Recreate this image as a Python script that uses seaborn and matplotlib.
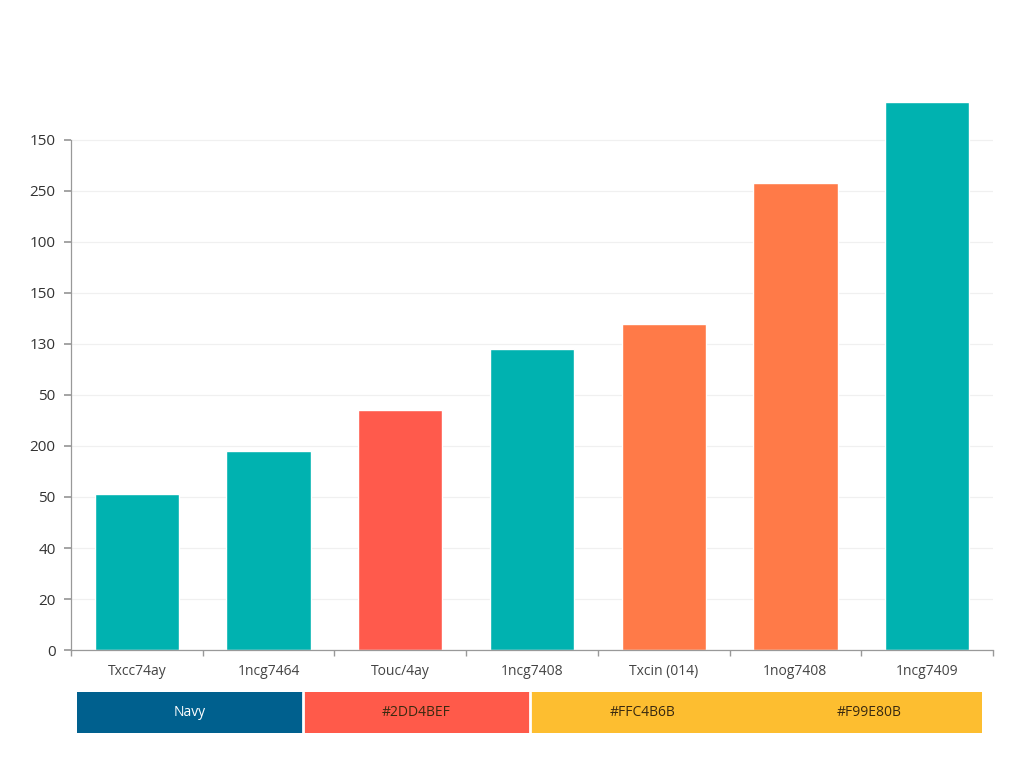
import numpy as np
import pandas as pd
import matplotlib
matplotlib.use("Agg")
import matplotlib.pyplot as plt
from matplotlib.colors import ListedColormap
import seaborn as sns

# bar data
categories = ["Txcc74ay", "1ncg7464", "Touc/4ay", "1ncg7408", "Txcin (014)", "1nog7408", "1ncg7409"]
values = [61, 78, 94, 118, 128, 183, 215]
bar_colors = ["#00B2B0", "#00B2B0", "#FF5A4C", "#00B2B0", "#FF7A48", "#FF7A48", "#00B2B0"]

# y axis labels as printed on the chart (bottom to top)
ytick_vals = [0, 20, 40, 60, 80, 100, 120, 140, 160, 180, 200]
ytick_text = ["0", "20", "40", "50", "200", "50", "130", "150", "100", "250", "150"]

# colour strip under the chart
strip_labels = ["Navy", "#2DD4BEF", "#FFC4B6B", "#F99E80B"]
strip_colors = ["#00608E", "#FF5A4A", "#FDBE30", "#FDBE30"]

sns.set_theme(style="white")
plt.rcParams["font.family"] = ["Open Sans", "DejaVu Sans"]

fig = plt.figure(figsize=(10.24, 7.68), dpi=100)
ax = fig.add_axes([0.0693, 0.1536, 0.9004, 0.7174])

df = pd.DataFrame({"cat": categories, "val": values})
sns.barplot(data=df, x="cat", y="val", hue="cat", palette=bar_colors,
            legend=False, width=0.64, saturation=1, ax=ax)

ax.set_xlim(-0.5, len(categories) - 0.5)
ax.set_ylim(0, 216)
ax.set_yticks(ytick_vals)
ax.set_yticklabels(ytick_text, fontsize=11, color="#333333")
ax.set_xticks(range(len(categories)))
ax.set_xticklabels(categories, fontsize=10, color="#444444")
ax.set_xticks(np.arange(-0.5, len(categories), 1.0), minor=True)
ax.tick_params(axis="x", which="major", length=0, pad=10)
ax.tick_params(axis="x", which="minor", length=4, color="#999999", direction="out", bottom=True)
ax.tick_params(axis="y", length=5, color="#999999", direction="out", left=True, pad=6)
ax.set_xlabel("")
ax.set_ylabel("")

ax.yaxis.grid(True, color="#F0F0F0", linewidth=0.9)
ax.set_axisbelow(True)
for s in ["top", "right"]:
    ax.spines[s].set_visible(False)
ax.spines["left"].set_bounds(0, 200)
ax.spines["left"].set_color("#999999")
ax.spines["bottom"].set_color("#999999")
ax.spines["left"].set_linewidth(0.9)
ax.spines["bottom"].set_linewidth(0.9)

# strip
sax = fig.add_axes([0.0752, 0.0456, 0.8838, 0.0534])
strip = np.arange(len(strip_labels)).reshape(1, -1)
sns.heatmap(strip, cmap=ListedColormap(strip_colors), annot=np.array([strip_labels]),
            fmt="", cbar=False, linewidths=0,
            annot_kws={"fontsize": 10}, xticklabels=False, yticklabels=False, ax=sax)
for i, t in enumerate(sax.texts):
    t.set_color("white" if i == 0 else "#3A2A10")
# thin white separators only between differently coloured cells
for i in range(1, len(strip_colors)):
    if strip_colors[i] != strip_colors[i - 1]:
        sax.axvline(i, color="white", linewidth=2)

fig.savefig("out.png", dpi=100)
